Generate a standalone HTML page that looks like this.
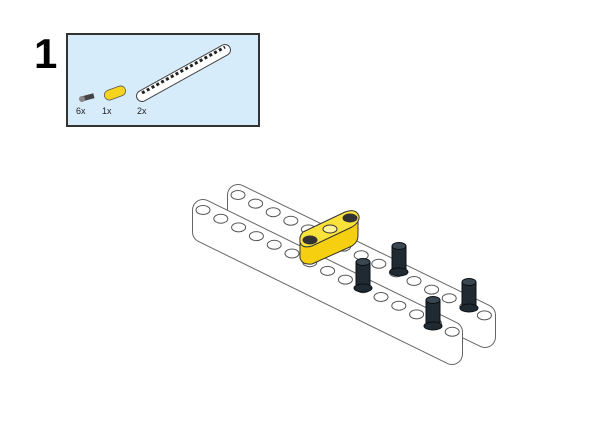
<!DOCTYPE html>
<html><head><style>
html,body{margin:0;padding:0;background:#fff;width:600px;height:424px;overflow:hidden}
</style></head><body>
<svg width="600" height="424" viewBox="0 0 600 424" xmlns="http://www.w3.org/2000/svg" font-family="Liberation Sans, sans-serif">
<text x="34" y="68" font-size="42" font-weight="bold" fill="#000">1</text>
<rect x="67" y="34" width="192" height="92" fill="#d7ecfb" stroke="#333" stroke-width="2"/>
<g>
<rect x="80" y="95" width="14" height="5" fill="#444" transform="rotate(-15 87 97)"/>
<circle cx="82" cy="99" r="3" fill="#888"/>
<rect x="104" y="88" width="22" height="10" rx="5" fill="#f6d31c" stroke="#555" stroke-width="0.8" transform="rotate(-20 115 93)"/>
<line x1="142" y1="96" x2="225" y2="50" stroke="#444" stroke-width="12" stroke-linecap="round"/>
<line x1="142" y1="96" x2="225" y2="50" stroke="#fff" stroke-width="10" stroke-linecap="round"/>
<line x1="142" y1="93" x2="225" y2="47" stroke="#222" stroke-width="3" stroke-dasharray="3 2.5"/>
<text x="76" y="114" font-size="9" fill="#222">6x</text>
<text x="102" y="114" font-size="9" fill="#222">1x</text>
<text x="137" y="114" font-size="9" fill="#222">2x</text>
</g>
<g>
<line x1="238" y1="217" x2="485" y2="337" stroke="#666" stroke-width="22" stroke-linecap="round"/>
<polygon points="227,195 496,315 496,337 227,217" fill="#666"/>
<line x1="238" y1="195" x2="485" y2="315" stroke="#666" stroke-width="22" stroke-linecap="round"/>
<line x1="238" y1="217" x2="485" y2="337" stroke="#fff" stroke-width="20" stroke-linecap="round"/>
<polygon points="228,195 495,315 495,337 228,217" fill="#fff"/>
<line x1="238" y1="195" x2="485" y2="315" stroke="#fff" stroke-width="20" stroke-linecap="round"/>
<g fill="#fff" stroke="#555" stroke-width="1">
<ellipse cx="238" cy="195" rx="7" ry="4.5"/><ellipse cx="255.6" cy="203.6" rx="7" ry="4.5"/><ellipse cx="273.2" cy="212.2" rx="7" ry="4.5"/><ellipse cx="290.8" cy="220.8" rx="7" ry="4.5"/><ellipse cx="308.4" cy="229.4" rx="7" ry="4.5"/><ellipse cx="326" cy="238" rx="7" ry="4.5"/><ellipse cx="343.6" cy="246.6" rx="7" ry="4.5"/><ellipse cx="361.2" cy="255.2" rx="7" ry="4.5"/><ellipse cx="378.8" cy="263.8" rx="7" ry="4.5"/><ellipse cx="396.4" cy="272.4" rx="7" ry="4.5"/><ellipse cx="414" cy="281" rx="7" ry="4.5"/><ellipse cx="431.6" cy="289.6" rx="7" ry="4.5"/><ellipse cx="449.2" cy="298.2" rx="7" ry="4.5"/><ellipse cx="466.8" cy="306.8" rx="7" ry="4.5"/><ellipse cx="484.4" cy="315.4" rx="7" ry="4.5"/>
</g>
</g>
<g>
<line x1="203" y1="232" x2="452" y2="354" stroke="#666" stroke-width="22" stroke-linecap="round"/>
<polygon points="192,210 463,332 463,354 192,232" fill="#666"/>
<line x1="203" y1="210" x2="452" y2="332" stroke="#666" stroke-width="22" stroke-linecap="round"/>
<line x1="203" y1="232" x2="452" y2="354" stroke="#fff" stroke-width="20" stroke-linecap="round"/>
<polygon points="193,210 462,332 462,354 193,232" fill="#fff"/>
<line x1="203" y1="210" x2="452" y2="332" stroke="#fff" stroke-width="20" stroke-linecap="round"/>
<g fill="#fff" stroke="#555" stroke-width="1">
<ellipse cx="203" cy="210" rx="7" ry="4.5"/><ellipse cx="220.8" cy="218.7" rx="7" ry="4.5"/><ellipse cx="238.6" cy="227.4" rx="7" ry="4.5"/><ellipse cx="256.4" cy="236.1" rx="7" ry="4.5"/><ellipse cx="274.2" cy="244.8" rx="7" ry="4.5"/><ellipse cx="292" cy="253.5" rx="7" ry="4.5"/><ellipse cx="309.8" cy="262.2" rx="7" ry="4.5"/><ellipse cx="327.6" cy="270.9" rx="7" ry="4.5"/><ellipse cx="345.4" cy="279.6" rx="7" ry="4.5"/><ellipse cx="363.2" cy="288.3" rx="7" ry="4.5"/><ellipse cx="381" cy="297" rx="7" ry="4.5"/><ellipse cx="398.8" cy="305.7" rx="7" ry="4.5"/><ellipse cx="416.6" cy="314.4" rx="7" ry="4.5"/><ellipse cx="434.4" cy="323.1" rx="7" ry="4.5"/><ellipse cx="452.2" cy="331.8" rx="7" ry="4.5"/>
</g>
</g>
<g stroke="#333" stroke-width="1">
<path d="M300,240 L300,258 Q302,265 312,264 L352,246 Q358,242 358,236 L358,218 Z" fill="#f5cf10"/>
<path d="M303,232 L345,212 Q356,208 359,216 Q360,222 352,227 L312,246 Q302,249 300,242 Q299,236 303,232 Z" fill="#fbe23a"/>
<ellipse cx="310" cy="240" rx="7" ry="4" fill="#333"/>
<ellipse cx="330" cy="229" rx="7" ry="4" fill="#fff3a0"/>
<ellipse cx="350" cy="218" rx="7" ry="4" fill="#333"/>
</g>
<g fill="#1f2a33" stroke="#0b0f13" stroke-width="1">
<g transform="translate(363,262)"><rect x="-7" y="0" width="14" height="26"/><ellipse cx="0" cy="26" rx="9" ry="4"/><ellipse cx="0" cy="0" rx="7" ry="3.5" fill="#3a4650"/></g>
<g transform="translate(399,246)"><rect x="-7" y="0" width="14" height="26"/><ellipse cx="0" cy="26" rx="9" ry="4"/><ellipse cx="0" cy="0" rx="7" ry="3.5" fill="#3a4650"/></g>
<g transform="translate(433,300)"><rect x="-7" y="0" width="14" height="26"/><ellipse cx="0" cy="26" rx="9" ry="4"/><ellipse cx="0" cy="0" rx="7" ry="3.5" fill="#3a4650"/></g>
<g transform="translate(469,282)"><rect x="-7" y="0" width="14" height="26"/><ellipse cx="0" cy="26" rx="9" ry="4"/><ellipse cx="0" cy="0" rx="7" ry="3.5" fill="#3a4650"/></g>
</g>
</svg>
</body></html>
